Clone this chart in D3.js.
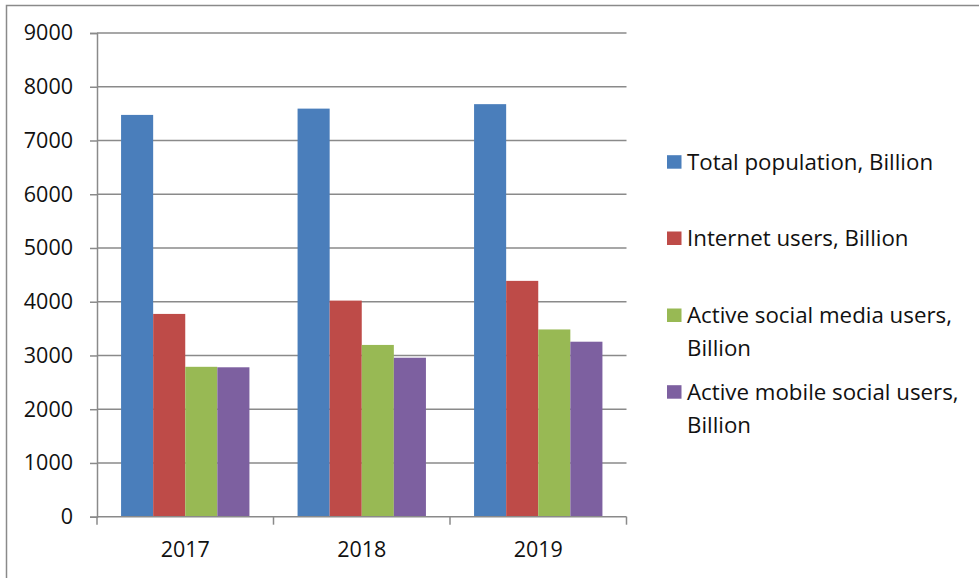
<!DOCTYPE html>
<html><head><meta charset="utf-8">
<script src="https://cdn.jsdelivr.net/npm/d3@7"></script>
<style>body{margin:0;background:#fff}svg{display:block}text{font-family:"Open Sans",sans-serif;fill:#111}</style>
</head><body>
<script>
const years = ["2017","2018","2019"];
const seriesNames = ["Total population, Billion","Internet users, Billion","Active social media users, Billion","Active mobile social users, Billion"];
const legendLines = [["Total population, Billion"],["Internet users, Billion"],["Active social media users,","Billion"],["Active mobile social users,","Billion"]];
const totalPopulation = [7476, 7593, 7676];
const internetUsers = [3773, 4021, 4388];
const socialMediaUsers = [2789, 3196, 3484];
const mobileSocialUsers = [2780, 2958, 3256];
const yTicks = [0,1000,2000,3000,4000,5000,6000,7000,8000,9000];
const colors = ["#4A7EBB","#BE4B48","#98B954","#7D60A0"];
const seriesValues = [totalPopulation, internetUsers, socialMediaUsers, mobileSocialUsers];

const W = 979, H = 578;
const svg = d3.select("body").append("svg").attr("width", W).attr("height", H);
svg.append("rect").attr("x",6.5).attr("y",5.5).attr("width",W+10).attr("height",H+10)
  .attr("fill","none").attr("stroke","#8a8a8a").attr("stroke-width",1.5);

const pLeft = 97, pRight = 626.5, pTop = 33, pBottom = 516.7;
const y = d3.scaleLinear().domain([0,9000]).range([pBottom, pTop]);
const x0 = d3.scaleBand().domain(years).range([pLeft, pRight]).padding(0);
const x1 = d3.scaleBand().domain(d3.range(4)).range([0, x0.bandwidth()]).paddingInner(0).paddingOuter(0.75);

// gridlines
svg.append("g").selectAll("line").data(yTicks.slice(1)).join("line")
  .attr("x1", pLeft).attr("x2", pRight).attr("y1", d=>y(d)).attr("y2", d=>y(d))
  .attr("stroke","#8a8a8a").attr("stroke-width",1.5);

// bars
const g = svg.append("g");
years.forEach((yr, i) => {
  g.append("g").selectAll("rect").data(seriesValues.map((s,k)=>({k, v:s[i]}))).join("rect")
    .attr("x", d => x0(yr) + x1(d.k))
    .attr("width", x1.bandwidth())
    .attr("y", d => y(d.v))
    .attr("height", d => y(0) - y(d.v))
    .attr("fill", d => colors[d.k]);
});

// y axis
const yAxis = d3.axisLeft(y).tickValues(yTicks).tickSize(7).tickPadding(17).tickFormat(d3.format("d"));
const ya = svg.append("g").attr("transform", `translate(${pLeft},0)`).call(yAxis);
ya.select(".domain").attr("stroke","#8a8a8a").attr("stroke-width",1.5);
ya.selectAll(".tick line").attr("stroke","#8a8a8a").attr("stroke-width",1.5);
ya.selectAll("text").attr("font-size",21.5).attr("fill","#111").style("font-family","'Open Sans',sans-serif");

// x axis
const xa = svg.append("g").attr("transform", `translate(0,${pBottom})`);
xa.append("line").attr("x1",pLeft).attr("x2",pRight).attr("stroke","#8a8a8a").attr("stroke-width",1.5);
const bounds = [pLeft, ...years.map(yr => x0(yr) + x0.bandwidth())];
xa.selectAll("line.t").data(bounds).join("line").attr("class","t")
  .attr("x1", d=>d).attr("x2", d=>d).attr("y1",0).attr("y2",8)
  .attr("stroke","#8a8a8a").attr("stroke-width",1.5);
xa.selectAll("text").data(years).join("text")
  .attr("x", d => x0(d) + x0.bandwidth()/2).attr("y", 33).attr("dy","0.35em")
  .attr("text-anchor","middle").attr("font-size",21.5).text(d=>d);

// legend
const legendY = [161.7, 238, 315, 391.7];
const lg = svg.append("g");
seriesNames.forEach((name, k) => {
  lg.append("rect").attr("x",667).attr("y",legendY[k]-6.5).attr("width",14.5).attr("height",13.5).attr("fill",colors[k]);
  legendLines[k].forEach((ln, j) => {
    lg.append("text").attr("x",687).attr("y",legendY[k] + j*33).attr("dy","0.35em")
      .attr("font-size",22.3).text(ln);
  });
});
</script>
</body></html>
